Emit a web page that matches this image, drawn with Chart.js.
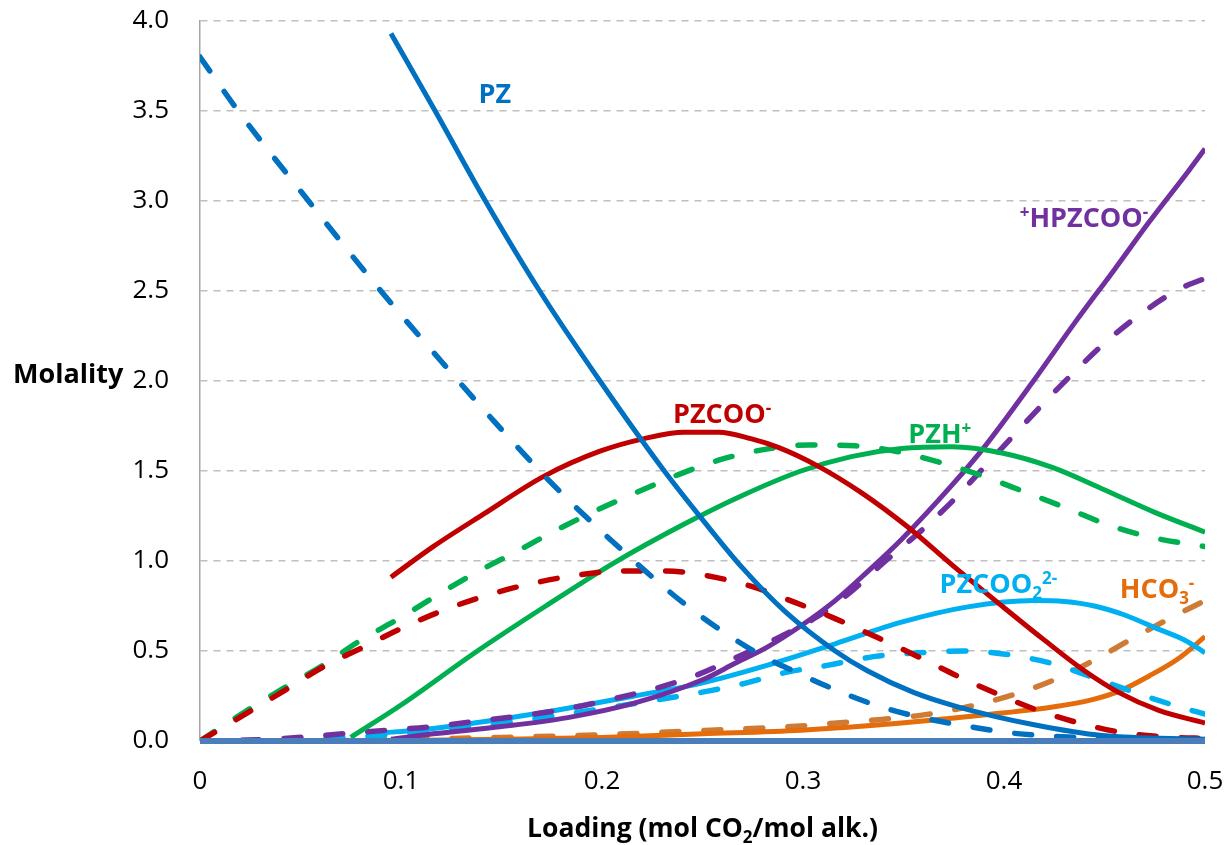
<!DOCTYPE html>
<html>
<head>
<meta charset="utf-8">
<script src="https://cdn.jsdelivr.net/npm/chart.js@4"></script>
<style>
  html, body { margin: 0; padding: 0; background: #fff; }
  #wrap { width: 1228px; height: 845px; }
</style>
</head>
<body>
<div id="wrap"><canvas id="chart" width="1228" height="845"></canvas></div>
<script>
// values: [loading, molality]
const pzModel = [[0.095,3.93],[0.117,3.5],[0.142,3.0],[0.169,2.5],[0.199,2.0],[0.231,1.5],[0.25,1.23],[0.27,0.96],[0.291,0.72],[0.316,0.5],[0.332,0.39],[0.355,0.27],[0.377,0.19],[0.415,0.09],[0.449,0.03],[0.5,0.01]];
const pzDash = [[0,3.8],[0.019,3.5],[0.054,3.0],[0.09,2.5],[0.12,2.11],[0.146,1.78],[0.176,1.42],[0.209,1.07],[0.243,0.745],[0.277,0.49],[0.297,0.38],[0.317,0.28],[0.336,0.2],[0.359,0.13],[0.383,0.08],[0.403,0.045],[0.45,0.015],[0.5,0.005]];
const pzcooModel = [[0.095,0.91],[0.116,1.08],[0.141,1.26],[0.171,1.47],[0.199,1.61],[0.221,1.68],[0.241,1.715],[0.258,1.715],[0.274,1.68],[0.288,1.63],[0.307,1.53],[0.329,1.38],[0.352,1.19],[0.375,0.97],[0.399,0.75],[0.419,0.57],[0.44,0.39],[0.457,0.27],[0.477,0.17],[0.5,0.1]];
const pzcooDash = [[0,0],[0.042,0.28],[0.061,0.41],[0.081,0.52],[0.101,0.63],[0.122,0.73],[0.143,0.81],[0.165,0.875],[0.187,0.92],[0.208,0.945],[0.231,0.945],[0.249,0.925],[0.274,0.86],[0.296,0.77],[0.316,0.68],[0.336,0.58],[0.357,0.47],[0.377,0.36],[0.397,0.26],[0.417,0.17],[0.439,0.095],[0.46,0.045],[0.485,0.02],[0.5,0.015]];
const pzhModel = [[0.075,0.02],[0.1,0.2],[0.138,0.5],[0.172,0.75],[0.206,0.99],[0.24,1.2],[0.269,1.36],[0.299,1.5],[0.324,1.58],[0.349,1.625],[0.374,1.635],[0.399,1.6],[0.424,1.52],[0.449,1.4],[0.475,1.27],[0.5,1.16]];
const pzhDash = [[0,0],[0.022,0.16],[0.041,0.29],[0.061,0.42],[0.08,0.56],[0.099,0.68],[0.118,0.81],[0.138,0.94],[0.157,1.05],[0.177,1.17],[0.197,1.28],[0.217,1.38],[0.238,1.48],[0.258,1.56],[0.281,1.62],[0.303,1.645],[0.326,1.64],[0.346,1.61],[0.369,1.545],[0.39,1.47],[0.41,1.385],[0.432,1.29],[0.452,1.2],[0.474,1.13],[0.5,1.08]];
const hpzcooModel = [[0.095,0.01],[0.116,0.04],[0.15,0.08],[0.183,0.13],[0.216,0.21],[0.25,0.34],[0.266,0.43],[0.282,0.52],[0.299,0.64],[0.316,0.78],[0.332,0.94],[0.349,1.12],[0.374,1.42],[0.39,1.63],[0.414,1.99],[0.435,2.32],[0.455,2.62],[0.472,2.88],[0.492,3.17],[0.5,3.29]];
const hpzcooDash = [[0,0],[0.035,0.01],[0.071,0.04],[0.093,0.06],[0.116,0.08],[0.138,0.11],[0.16,0.14],[0.183,0.18],[0.204,0.23],[0.226,0.29],[0.248,0.37],[0.266,0.46],[0.287,0.57],[0.307,0.69],[0.325,0.84],[0.341,1.0],[0.359,1.17],[0.375,1.34],[0.39,1.52],[0.405,1.7],[0.42,1.88],[0.435,2.05],[0.452,2.23],[0.469,2.38],[0.487,2.51],[0.5,2.57]];
const pzcoo2Model = [[0.085,0.04],[0.116,0.07],[0.166,0.15],[0.216,0.25],[0.249,0.32],[0.282,0.42],[0.316,0.54],[0.349,0.66],[0.382,0.745],[0.415,0.78],[0.43,0.775],[0.445,0.75],[0.46,0.7],[0.475,0.63],[0.49,0.56],[0.5,0.49]];
const pzcoo2Dash = [[0,0],[0.05,0.01],[0.1,0.04],[0.15,0.1],[0.2,0.18],[0.254,0.28],[0.271,0.32],[0.291,0.38],[0.312,0.42],[0.336,0.47],[0.357,0.49],[0.38,0.5],[0.402,0.48],[0.424,0.43],[0.445,0.35],[0.465,0.27],[0.487,0.19],[0.5,0.15]];
const hco3Model = [[0.08,0],[0.15,0.01],[0.2,0.02],[0.25,0.04],[0.299,0.06],[0.349,0.1],[0.399,0.155],[0.425,0.19],[0.444,0.23],[0.458,0.28],[0.472,0.36],[0.487,0.46],[0.5,0.58]];
const hco3Dash = [[0,0],[0.1,0.01],[0.15,0.02],[0.2,0.035],[0.254,0.06],[0.294,0.08],[0.317,0.1],[0.339,0.12],[0.36,0.145],[0.382,0.19],[0.404,0.255],[0.425,0.34],[0.445,0.45],[0.464,0.57],[0.484,0.69],[0.5,0.78]];
const baseLine = [[0,0],[0.5,0]];

const xTicks = [0, 0.1, 0.2, 0.3, 0.4, 0.5];
const yTicks = [0, 0.5, 1.0, 1.5, 2.0, 2.5, 3.0, 3.5, 4.0];

// species labels: position in data units, text pieces (n = normal, sup, sub)
const speciesLabels = [
  { x: 0.1386, y: 3.544, color: '#0070C0', parts: [['PZ', 'n']] },
  { x: 0.2353, y: 1.767, color: '#C00000', parts: [['PZCOO', 'n'], ['-', 'sup']] },
  { x: 0.3524, y: 1.656, color: '#00B050', parts: [['PZH', 'n'], ['+', 'sup']] },
  { x: 0.4078, y: 2.856, color: '#7030A0', parts: [['+', 'sup'], ['HPZCOO', 'n'], ['-', 'sup']] },
  { x: 0.3679, y: 0.822, color: '#00B0F0', parts: [['PZCOO', 'n'], ['2', 'sub'], ['2-', 'sup']] },
  { x: 0.4576, y: 0.794, color: '#E46C0A', parts: [['HCO', 'n'], ['3', 'sub'], ['-', 'sup']] },
];

const FONT = "'Open Sans', 'DejaVu Sans', sans-serif";

const line = (data, color, dashed) => ({
  data: data,
  borderColor: color,
  backgroundColor: color,
  borderWidth: dashed ? 5.5 : 5,
  borderDash: dashed ? [17, 25] : [],
  borderCapStyle: dashed ? 'round' : 'butt',
  borderJoinStyle: 'round',
  pointRadius: 0,
  fill: false,
  cubicInterpolationMode: 'monotone',
});

function drawRich(ctx, parts, x, y, size) {
  let cx = x;
  parts.forEach(([t, kind]) => {
    const s = kind === 'n' ? size : Math.round(size * 0.63);
    const dy = kind === 'sup' ? -size * 0.34 : kind === 'sub' ? size * 0.22 : 0;
    ctx.font = `bold ${s}px ${FONT}`;
    ctx.fillText(t, cx, y + dy);
    cx += ctx.measureText(t).width;
  });
  return cx - x;
}

function richWidth(ctx, parts, size) {
  let w = 0;
  parts.forEach(([t, kind]) => {
    const s = kind === 'n' ? size : Math.round(size * 0.63);
    ctx.font = `bold ${s}px ${FONT}`;
    w += ctx.measureText(t).width;
  });
  return w;
}

const textPlugin = {
  id: 'texts',
  afterDraw(chart) {
    const ctx = chart.ctx;
    const xs = chart.scales.x, ys = chart.scales.y;
    ctx.save();
    ctx.textBaseline = 'alphabetic';
    ctx.textAlign = 'left';
    speciesLabels.forEach(l => {
      ctx.fillStyle = l.color;
      drawRich(ctx, l.parts, xs.getPixelForValue(l.x), ys.getPixelForValue(l.y), 27);
    });
    // axis titles
    ctx.fillStyle = '#000';
    ctx.font = `bold 27px ${FONT}`;
    ctx.fillText('Molality', 13, 383);
    const title = [['Loading (mol CO', 'n'], ['2', 'sub'], ['/mol alk.)', 'n']];
    const w = richWidth(ctx, title, 26.5);
    drawRich(ctx, title, (xs.left + xs.right) / 2 - w / 2, 837, 26.5);
    ctx.restore();
  }
};

const baseDs = line(baseLine, '#4A7EBB', false);
baseDs.borderWidth = 6;
baseDs.clip = false;

new Chart(document.getElementById('chart').getContext('2d'), {
  type: 'line',
  data: {
    datasets: [
      baseDs,
      line(pzModel, '#0070C0', false),
      line(pzDash, '#0070C0', true),
      line(pzcooModel, '#C00000', false),
      line(pzcooDash, '#C00000', true),
      line(pzhModel, '#00B050', false),
      line(pzhDash, '#00B050', true),
      line(hpzcooModel, '#7030A0', false),
      line(hpzcooDash, '#7030A0', true),
      line(pzcoo2Model, '#00B0F0', false),
      line(pzcoo2Dash, '#00B0F0', true),
      line(hco3Model, '#E46C0A', false),
      line(hco3Dash, '#CD7B35', true),
    ],
  },
  options: {
    responsive: false,
    animation: false,
    devicePixelRatio: 1,
    layout: { padding: { top: 21, right: 23, left: 0, bottom: 0 } },
    plugins: { legend: { display: false }, tooltip: { enabled: false } },
    scales: {
      x: {
        type: 'linear',
        min: 0,
        max: 0.5,
        afterBuildTicks: s => { s.ticks = xTicks.map(v => ({ value: v })); },
        afterFit: s => {
          s.height = 104;
          s.paddingLeft = 0; s.paddingRight = 0;
        },
        ticks: {
          callback: v => (v === 0 ? '0' : v.toFixed(1)),
          font: { family: FONT, size: 26 },
          color: '#000',
          padding: 25,
          maxRotation: 0,
        },
        grid: { display: false, drawTicks: false },
        border: { display: false },
      },
      y: {
        min: 0,
        max: 4,
        afterBuildTicks: s => { s.ticks = yTicks.map(v => ({ value: v })); },
        afterFit: s => {
          s.width = 200;
          s.paddingTop = 0; s.paddingBottom = 0;
        },
        ticks: {
          callback: v => v.toFixed(1),
          font: { family: FONT, size: 26 },
          color: '#000',
          padding: 31,
        },
        grid: {
          color: '#BFBFBF',
          lineWidth: c => (c.tick && c.tick.value === 0 ? 0 : 1.5),
          drawTicks: false,
        },
        border: { display: true, color: '#A6A6A6', width: 1.5, dash: [7, 6] },
      },
    },
  },
  plugins: [textPlugin],
});
</script>
</body>
</html>
